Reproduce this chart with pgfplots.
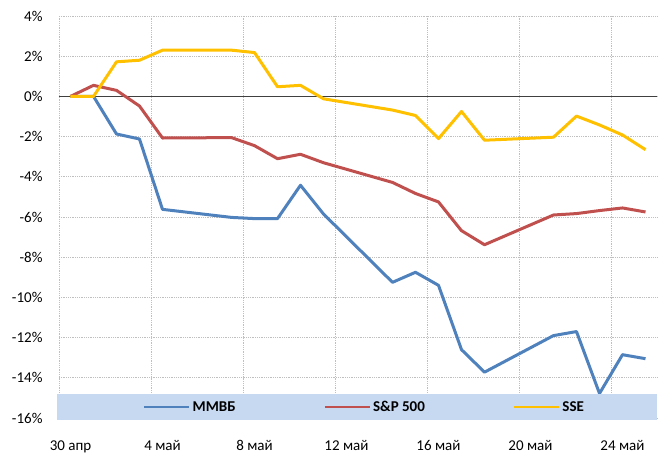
\documentclass[border=0pt]{standalone}
\usepackage{pgfplots}
\pgfplotsset{compat=1.18}
\usepackage{fontspec}
\setmainfont{Carlito}
\definecolor{cblue}{HTML}{4F81BD}
\definecolor{cred}{HTML}{C0504D}
\definecolor{cyellow}{HTML}{FFC000}
\definecolor{legbg}{HTML}{C6D9F1}
\definecolor{gridc}{HTML}{BFBFBF}
\begin{document}
\begin{tikzpicture}
\begin{axis}[
  at={(0,0)}, anchor=south west,
  scale only axis, width=598bp, height=402bp,
  xmin=-0.5, xmax=25.5, ymin=-16, ymax=4,
  axis line style={draw=none},
  tick style={draw=none},
  xtick={0,4,...,24},
  xticklabels={30 апр,4 май,8 май,12 май,16 май,20 май,24 май},
  minor xtick={-0.5,3.5,...,23.5},
  xminorgrids=true, xmajorgrids=false,
  ytick={-16,-14,...,4},
  ymajorgrids=true,
  major grid style={gridc, line width=0.9bp, dash pattern=on 0.9bp off 0.9bp},
  minor grid style={gridc, line width=0.9bp, dash pattern=on 0.9bp off 0.9bp},
  yticklabel={\pgfmathprintnumber{\tick}\%},
  /pgf/number format/assume math mode=true,
  tick label style={font=\fontsize{15bp}{18bp}\selectfont},
  y tick label style={xshift=-13bp},
  x tick label style={yshift=-19bp},
  extra y ticks={0}, extra y tick labels={},
  extra y tick style={ymajorgrids=true, major grid style={solid, black!75, line width=1.3bp}},
  clip=false,
  legend columns=3,
  legend style={draw=none, fill=none, at={(axis cs:3.15,-15.45)}, anchor=west, inner sep=0pt,
    font=\bfseries\fontsize{15bp}{18bp}\selectfont,
    /tikz/every even column/.append style={column sep=86bp}},
  legend image code/.code={\draw[#1, line width=2.5bp] (0bp,0bp) -- (45bp,0bp);},
  every axis plot/.append style={line width=3bp, line join=round},
]
\addplot[cblue] coordinates {
(0,0) (1,0) (2,-1.87) (3,-2.12) (4,-5.62) (7,-6.02) (8,-6.08) (9,-6.08) (10,-4.42) (11,-5.85)
(14,-9.25) (15,-8.75) (16,-9.4) (17,-12.6) (18,-13.72) (21,-11.9) (22,-11.7) (23,-14.78) (24,-12.85) (25,-13.05)};
\addlegendentry{ММВБ}
\addplot[cred] coordinates {
(0,0) (1,0.55) (2,0.3) (3,-0.48) (4,-2.07) (7,-2.05) (8,-2.45) (9,-3.1) (10,-2.88) (11,-3.3)
(14,-4.28) (15,-4.83) (16,-5.25) (17,-6.68) (18,-7.38) (21,-5.9) (22,-5.83) (23,-5.68) (24,-5.55) (25,-5.75)};
\addlegendentry{S\&P 500}
\addplot[cyellow] coordinates {
(0,0) (1,0) (2,1.72) (3,1.8) (4,2.3) (7,2.3) (8,2.18) (9,0.48) (10,0.55) (11,-0.12)
(14,-0.68) (15,-0.95) (16,-2.1) (17,-0.75) (18,-2.18) (21,-2.03) (22,-0.98) (23,-1.42) (24,-1.92) (25,-2.65)};
\addlegendentry{SSE}
\fill[legbg] (axis cs:-0.587,-16.1) rectangle (axis cs:25.5,-14.82);
\end{axis}
\path (-59bp,-39bp) rectangle (599bp,418bp);
\end{tikzpicture}
\end{document}
